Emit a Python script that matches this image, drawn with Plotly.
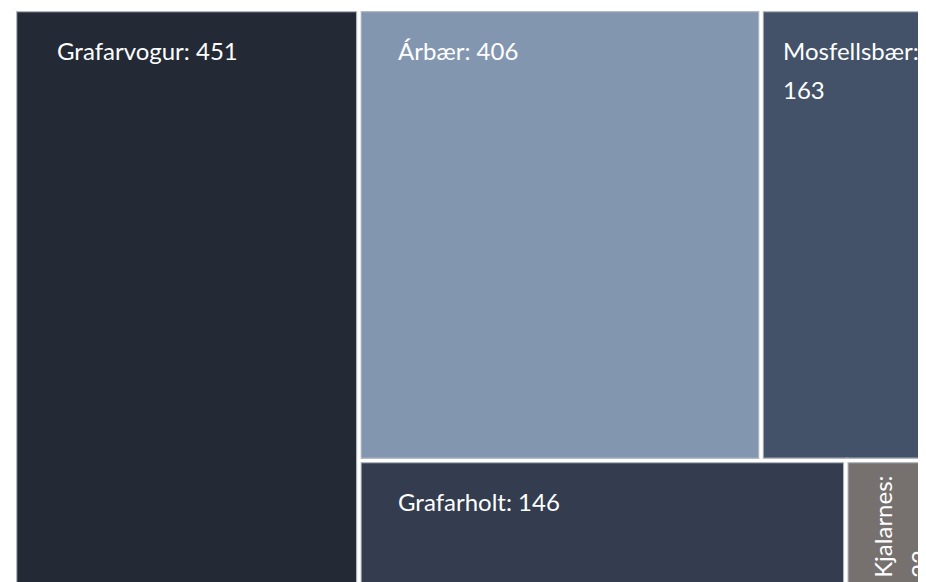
import plotly.graph_objects as go

# ---- data ----
names = ["Grafarvogur", "Árbær", "Mosfellsbær", "Grafarholt", "Kjalarnes"]
values = [451, 406, 163, 146, 23]

# ---- style ----
colors = ["#232a36", "#8396b0", "#435268", "#333d4f", "#76716f"]
groups = [[0], [1, 2], [3, 4]]          # first group: column, then rows
FONT = "Lato"
FS = 24

# figure size (page body adds an 8px margin) ; axis units == pixels
FW, FH = 918, 574
# container of the treemap (in axis units)
X0, Y0, W, H = 6.5, 1.5, 908, 585


def treemap_layout(vals, grps, x0, y0, w, h):
    total = sum(vals)
    rects = [None] * len(vals)
    g0 = grps[0]
    s0 = sum(vals[i] for i in g0)
    cw = w * s0 / total
    yy = y0
    for i in g0:
        hh = h * vals[i] / s0
        rects[i] = (x0, yy, x0 + cw, yy + hh)
        yy += hh
    rx0, rw = x0 + cw, w - cw
    rest = sum(vals) - s0
    yy = y0
    for g in grps[1:]:
        sg = sum(vals[i] for i in g)
        rh = h * sg / rest
        xx = rx0
        for i in g:
            ww = rw * vals[i] / sg
            rects[i] = (xx, yy, xx + ww, yy + rh)
            xx += ww
        yy += rh
    return rects


rects = treemap_layout(values, groups, X0, Y0, W, H)

fig = go.Figure()
for (x0, y0, x1, y1), c, n, v in zip(rects, colors, names, values):
    fig.add_trace(go.Scatter(
        x=[x0, x1, x1, x0, x0], y=[y0, y0, y1, y1, y0],
        mode="lines", fill="toself", fillcolor=c,
        line=dict(color="#b3b9c1", width=5.5),
        hoverinfo="text", text=f"{n}: {v}", showlegend=False))
for (x0, y0, x1, y1) in rects:
    fig.add_trace(go.Scatter(
        x=[x0, x1, x1, x0, x0], y=[y0, y0, y1, y1, y0],
        mode="lines", line=dict(color="#ffffff", width=3),
        hoverinfo="skip", showlegend=False))
# soften the outer border
o = 2.5
fig.add_trace(go.Scatter(
    x=[X0 - o, X0 + W + o, X0 + W + o, X0 - o, X0 - o],
    y=[Y0 - o, Y0 - o, Y0 + H + o, Y0 + H + o, Y0 - o],
    mode="lines", line=dict(color="#ffffff", width=3),
    hoverinfo="skip", showlegend=False))

font = dict(family=FONT, size=FS, color="#ffffff")
LINE = 39
LINE_ROT = 37
label_dx = [40, 37, 20, 37, 20]
annotations = []
for i, ((x0, y0, x1, y1), n, v) in enumerate(zip(rects, names, values)):
    width = x1 - x0
    full = f"{n}: {v}"
    est = 0.5 * FS * len(full)
    if width < 90:
        # rotated, wrapped label
        for k, line in enumerate([f"{n}:", f"{v}"]):
            annotations.append(dict(
                x=x0 + label_dx[i] + k * LINE_ROT, y=y1 - 15,
                xref="x", yref="y", text=line, showarrow=False,
                textangle=-90, xanchor="left", yanchor="bottom", font=font))
    elif est + label_dx[i] > width:
        for k, line in enumerate([f"{n}:", f"{v}"]):
            annotations.append(dict(
                x=x0 + label_dx[i], y=y0 + 24 + k * LINE,
                xref="x", yref="y", text=line, showarrow=False,
                xanchor="left", yanchor="top", font=font))
    else:
        annotations.append(dict(
            x=x0 + label_dx[i], y=y0 + 24,
            xref="x", yref="y", text=full, showarrow=False,
            xanchor="left", yanchor="top", font=font))

fig.update_layout(
    width=FW, height=FH,
    margin=dict(l=0, r=0, t=0, b=0),
    paper_bgcolor="#ffffff", plot_bgcolor="#ffffff",
    xaxis=dict(range=[0, FW], visible=False, fixedrange=True),
    yaxis=dict(range=[FH, 0], visible=False, fixedrange=True),
    annotations=annotations,
    font=dict(family=FONT),
)

fig.write_html("out.html")
